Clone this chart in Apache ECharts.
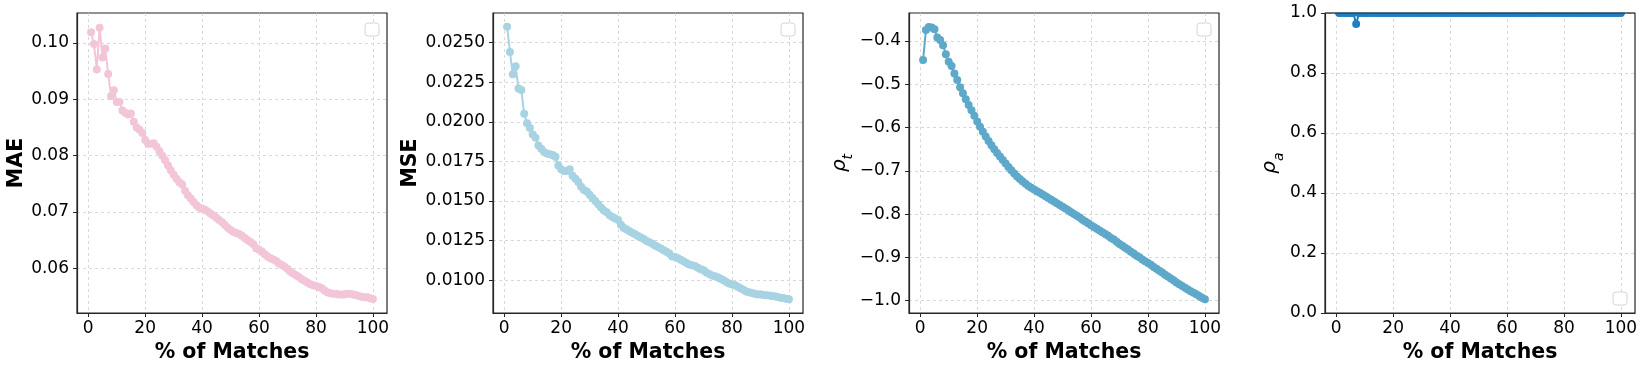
<!DOCTYPE html>
<html>
<head>
<meta charset="utf-8">
<script src="https://cdn.jsdelivr.net/npm/echarts@6/dist/echarts.min.js"></script>
<style>
  html, body { margin: 0; padding: 0; background: #fff; }
  #main { width: 1645px; height: 369px; }
</style>
</head>
<body>
<div id="main"></div>
<script>
// % of matches (x positions)
var pct = [1,2,3,4,5,6,7,8,9,10,11,12,13,14,15,16,17,18,19,20,
  21,22,23,24,25,26,27,28,29,30,31,32,33,34,35,36,37,38,39,40,
  41,42,43,44,45,46,47,48,49,50,51,52,53,54,55,56,57,58,59,60,
  61,62,63,64,65,66,67,68,69,70,71,72,73,74,75,76,77,78,79,80,
  81,82,83,84,85,86,87,88,89,90,91,92,93,94,95,96,97,98,99,100]

var mae = [0.1019,0.0998,0.0953,0.1027,0.0974,0.0990,0.0945,0.0906,0.0916,0.0895,
  0.0895,0.0880,0.0876,0.0873,0.0875,0.0860,0.0850,0.0846,0.0840,0.0828,
  0.0821,0.0821,0.0822,0.0816,0.0808,0.0800,0.0792,0.0783,0.0774,0.0766,
  0.0759,0.0753,0.0749,0.0738,0.0730,0.0724,0.0718,0.0712,0.0708,0.0706,
  0.0704,0.0701,0.0697,0.0694,0.0690,0.0686,0.0682,0.0677,0.0672,0.0668,
  0.0665,0.0663,0.0661,0.0658,0.0654,0.0650,0.0647,0.0643,0.0636,0.0633,
  0.0630,0.0625,0.0621,0.0618,0.0616,0.0613,0.0609,0.0606,0.0603,0.0599,
  0.0594,0.0591,0.0588,0.0585,0.0581,0.0578,0.0575,0.0572,0.0570,0.0569,
  0.0567,0.0565,0.0561,0.0558,0.0556,0.0555,0.0555,0.0554,0.0554,0.0554,
  0.0555,0.0555,0.0554,0.0553,0.0551,0.0550,0.0549,0.0549,0.0547,0.0546]

var mse = [0.0260,0.0244,0.0230,0.0235,0.0221,0.0220,0.0205,0.0199,0.0196,0.0192,
  0.0190,0.0185,0.0183,0.0181,0.0180,0.01795,0.0179,0.0178,0.01725,0.0170,
  0.0169,0.0169,0.0170,0.0166,0.0164,0.0162,0.0159,0.0157,0.0156,0.0154,
  0.0152,0.0150,0.0148,0.0146,0.0144,0.0143,0.0141,0.0140,0.0139,0.0138,
  0.0135,0.0133,0.0132,0.0131,0.0130,0.0129,0.0128,0.0127,0.0126,0.01248,
  0.0124,0.0123,0.0122,0.0121,0.0120,0.0119,0.0118,0.0117,0.0115,0.01147,
  0.0114,0.0113,0.0112,0.0111,0.0110,0.01095,0.0109,0.0108,0.0107,0.01064,
  0.0105,0.0104,0.0103,0.01025,0.0102,0.0101,0.0100,0.0099,0.0098,0.00974,
  0.0097,0.0096,0.0095,0.0094,0.0093,0.00925,0.0092,0.00915,0.0091,0.00912,
  0.00908,0.00906,0.00904,0.00902,0.0090,0.00895,0.0089,0.00888,0.00884,0.0088]

var rhoT = [-0.444,-0.375,-0.368,-0.369,-0.373,-0.392,-0.398,-0.410,-0.431,-0.448,
  -0.458,-0.475,-0.490,-0.507,-0.521,-0.535,-0.548,-0.560,-0.573,-0.586,
  -0.598,-0.610,-0.621,-0.631,-0.641,-0.650,-0.659,-0.667,-0.675,-0.683,
  -0.691,-0.699,-0.706,-0.713,-0.719,-0.725,-0.730,-0.735,-0.739,-0.743,
  -0.747,-0.751,-0.755,-0.759,-0.763,-0.767,-0.771,-0.775,-0.779,-0.783,
  -0.787,-0.791,-0.796,-0.800,-0.804,-0.808,-0.813,-0.817,-0.821,-0.826,
  -0.830,-0.834,-0.838,-0.842,-0.846,-0.850,-0.855,-0.859,-0.864,-0.869,
  -0.873,-0.878,-0.882,-0.887,-0.891,-0.896,-0.900,-0.905,-0.909,-0.913,
  -0.917,-0.922,-0.926,-0.931,-0.935,-0.940,-0.944,-0.949,-0.953,-0.958,
  -0.962,-0.966,-0.970,-0.974,-0.978,-0.982,-0.985,-0.989,-0.993,-0.997]

var rhoA = [1,1,1,1,1,1,0.963,1,1,1, 1,1,1,1,1,1,1,1,1,1,
  1,1,1,1,1,1,1,1,1,1, 1,1,1,1,1,1,1,1,1,1,
  1,1,1,1,1,1,1,1,1,1, 1,1,1,1,1,1,1,1,1,1,
  1,1,1,1,1,1,1,1,1,1, 1,1,1,1,1,1,1,1,1,1,
  1,1,1,1,1,1,1,1,1,1, 1,1,1,1,1,1,1,1,1,1]

// tick labels
var xTicks = [0, 20, 40, 60, 80, 100]
var maeTicks = [0.06, 0.07, 0.08, 0.09, 0.10]
var mseTicks = [0.0100, 0.0125, 0.0150, 0.0175, 0.0200, 0.0225, 0.0250]
var rhoTTicks = [-1.0, -0.9, -0.8, -0.7, -0.6, -0.5, -0.4]
var rhoATicks = [0, 0.2, 0.4, 0.6, 0.8, 1.0]

var FONT = "'DejaVu Sans', sans-serif"
var GRID_LINE = { show: true, lineStyle: { color: '#cfcfcf', type: [3, 3], width: 0.8 } }

function xs(vals) {
  return pct.map(function (p, i) { return [p, vals[i]] })
}

function fmt(digits) {
  return function (v) {
    var s = Math.abs(v).toFixed(digits)
    return (v < -1e-12 ? '\u2212' : '') + s
  }
}

var panels = [
  { left: 77, data: mae, color: '#f2c6d8', name: 'MAE', gap: 49, min: 0.0521, max: 0.1053, ticks: maeTicks, digits: 2 },
  { left: 493, data: mse, color: '#a7d3e3', name: 'MSE', gap: 72, min: 0.00794, max: 0.02686, ticks: mseTicks, digits: 4 },
  { left: 909, data: rhoT, color: '#5ea8ca', name: '{r|\u03c1}{s|t}', gap: 50, min: -1.0285, max: -0.3355, ticks: rhoTTicks, digits: 1 },
  { left: 1325, data: rhoA, color: '#1f7fc1', name: '{r|\u03c1}{s|a}', gap: 31, min: 0, max: 1, ticks: rhoATicks, digits: 1 }
]

var grids = [], xAxes = [], yAxes = [], series = [], graphics = []

panels.forEach(function (p, i) {
  grids.push({ left: p.left, top: 13, width: 310, height: 300, show: true, borderColor: '#262626', borderWidth: 1.2 })
  xAxes.push({
    gridIndex: i, type: 'value', min: -3.95, max: 104.95,
    name: '% of Matches', nameLocation: 'middle', nameGap: 24,
    nameTextStyle: { fontFamily: FONT, fontSize: 20.5, fontWeight: 'bold', color: '#000' },
    axisLine: { show: true, onZero: false, lineStyle: { color: '#262626', width: 1.2 } },
    axisTick: { show: true, length: 4, customValues: xTicks, lineStyle: { color: '#262626' } },
    axisLabel: { customValues: xTicks, margin: 7, fontFamily: FONT, fontSize: 17, color: '#000' },
    splitLine: GRID_LINE
  })
  var rich = {
    r: { fontFamily: FONT, fontSize: 20, fontStyle: 'italic', color: '#000', padding: [0, 0, 6, 0], verticalAlign: 'top' },
    s: { fontFamily: FONT, fontSize: 14, fontStyle: 'italic', color: '#000', lineHeight: 14, verticalAlign: 'bottom' }
  }
  yAxes.push({
    gridIndex: i, type: 'value', min: p.min, max: p.max,
    name: p.name, nameLocation: 'middle', nameGap: p.gap,
    nameTextStyle: { fontFamily: FONT, fontSize: 20.5, fontWeight: i < 2 ? 'bold' : 'normal', color: '#000', rich: rich },
    axisLine: { show: true, onZero: false, lineStyle: { color: '#262626', width: 1.2 } },
    axisTick: { show: true, length: 4, customValues: p.ticks, lineStyle: { color: '#262626' } },
    axisLabel: { customValues: p.ticks, margin: 8, fontFamily: FONT, fontSize: 17, color: '#000', formatter: fmt(p.digits) },
    splitLine: GRID_LINE
  })
  series.push({
    type: 'line', xAxisIndex: i, yAxisIndex: i, data: xs(p.data),
    symbol: 'circle', symbolSize: 8, showSymbol: true,
    lineStyle: { color: p.color, width: 2 },
    itemStyle: { color: p.color },
    emphasis: { disabled: true }, animation: false, z: 3
  })
})

// matplotlib clips the rho_a markers that sit on the top spine
graphics.push({ type: 'rect', shape: { x: 1320, y: 0, width: 320, height: 12.6 }, style: { fill: '#fff' }, z: 20 })
graphics.push({ type: 'line', shape: { x1: 1325, y1: 13, x2: 1635, y2: 13 }, style: { stroke: '#262626', lineWidth: 1.2 }, z: 21 })

// empty legend boxes
var boxes = [[365, 23], [781, 23], [1197, 23], [1613, 292]]
boxes.forEach(function (b) {
  graphics.push({ type: 'rect', shape: { x: b[0], y: b[1], width: 14, height: 13, r: 3 }, style: { fill: '#fff', stroke: '#d6d6d6', lineWidth: 1 }, z: 10 })
})

var chart = echarts.init(document.getElementById('main'))
chart.setOption({
  backgroundColor: '#fff',
  animation: false,
  grid: grids,
  xAxis: xAxes,
  yAxis: yAxes,
  series: series,
  graphic: graphics
})
</script>
</body>
</html>
